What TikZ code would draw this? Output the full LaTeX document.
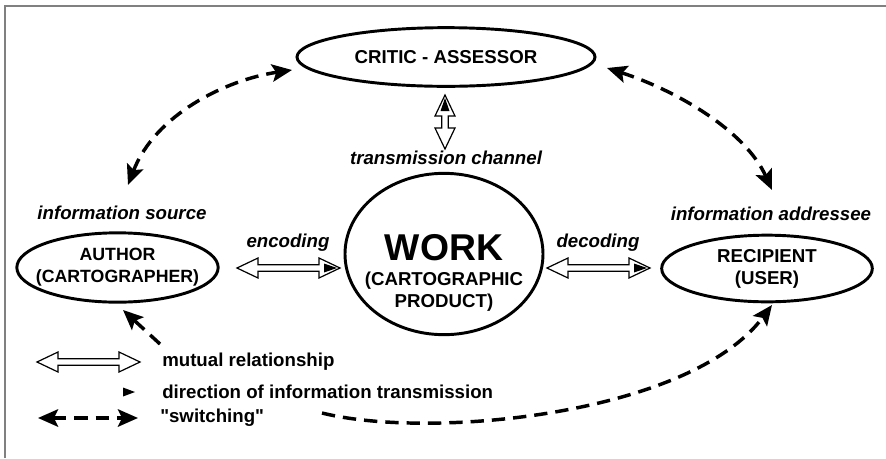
\documentclass[tikz,border=0pt]{standalone}
\usepackage{fontspec}
\setmainfont{Liberation Sans}[Ligatures=TeXOff]
\usetikzlibrary{shapes.geometric,arrows.meta}
\definecolor{framegray}{HTML}{808080}
\tikzset{
  ell/.style={draw, ellipse, line width=2.2pt, inner sep=0pt},
  captxt/.style={font=\fontsize{14}{16.5}\selectfont\bfseries, align=center},
  captxtsmall/.style={font=\fontsize{13.3}{16.5}\selectfont\bfseries, align=center},
  lab/.style={font=\fontsize{14}{16.5}\selectfont\bfseries\itshape},
  leg/.style={font=\fontsize{14}{16.5}\selectfont\bfseries, anchor=west, inner sep=0pt},
  sw/.style={line width=2.6pt, dash pattern=on 10pt off 6pt},
  swtip/.style={-{Stealth[length=15pt,width=13pt,inset=3pt]}},
  swtips/.style={{Stealth[length=15pt,width=13pt,inset=3pt]}-{Stealth[length=15pt,width=13pt,inset=3pt]}},
  pics/mutual/.style={code={
    \draw[line width=0.9pt, fill=white, line join=miter]
      (0,0) -- (21,10) -- (21,3.2) -- (#1-21,3.2) -- (#1-21,10) -- (#1,0)
      -- (#1-21,-10) -- (#1-21,-3.2) -- (21,-3.2) -- (21,-10) -- cycle;
  }},
  pics/mutualdir/.style={code={
    \draw[line width=0.9pt, fill=white, line join=miter]
      (0,0) -- (21,10) -- (21,3.2) -- (#1-21,3.2) -- (#1-21,10) -- (#1,0)
      -- (#1-21,-10) -- (#1-21,-3.2) -- (21,-3.2) -- (21,-10) -- cycle;
    \fill (#1-3,0) -- (#1-16,4.5) -- (#1-16,-4.5) -- cycle;
  }}
}
\begin{document}
\begin{tikzpicture}[x=0.75pt,y=-0.75pt]
\useasboundingbox (0,0) rectangle (886,458);
% frame
\draw[framegray, line width=1.5pt] (5,458) -- (5,6) -- (886,6);

% main ellipses
\node[ell, minimum width=223.5pt, minimum height=44pt,
      label={[captxt]center:CRITIC - ASSESSOR}] (critic) at (446,57) {};
\node[ell, minimum width=151pt, minimum height=52pt,
      label={[captxtsmall]center:AUTHOR\\(CARTOGRAPHER)}] (author) at (117.5,267.5) {};
\node[ell, minimum width=158pt, minimum height=50pt,
      label={[captxt]center:RECIPIENT\\(USER)}] (recipient) at (767,268.5) {};
\node[ell, minimum width=148.5pt, minimum height=121pt] (work) at (444,254) {};
\node[font=\fontsize{28}{30}\selectfont\bfseries] (worktitle) at (444,248) {WORK};
\node[captxt] (worksub) at (444,292) {(CARTOGRAPHIC\\PRODUCT)};

% italic labels
\node[lab] (src) at (122,213) {information source};
\node[lab] (chan) at (446,158) {transmission channel};
\node[lab] (addr) at (771,214) {information addressee};
\node[lab] (enc) at (288,243) {encoding};
\node[lab] (dec) at (598,243) {decoding};

% mutual relationship arrows
\coordinate (enc1) at (237,268);
\coordinate (dec1) at (547,268);
\coordinate (ch1) at (445,149);
\pic at (enc1) {mutualdir=103};
\pic at (dec1) {mutualdir=103};
\pic[rotate=90] at (ch1) {mutualdir=54};

% switching arrows
\coordinate (tl1) at (128,185);
\coordinate (tl2) at (292,70);
\coordinate (tr1) at (607,68);
\coordinate (tr2) at (772,190);
\coordinate (bl1) at (160,344);
\coordinate (bl2) at (123,310);
\coordinate (br1) at (322,413);
\coordinate (br2) at (772,305);
\draw[sw, swtips] (tl1) .. controls (155,115) and (225,80) .. (tl2);
\draw[sw, swtips] (tr1) .. controls (675,90) and (745,130) .. (tr2);
\draw[sw, swtip] (bl1) -- (bl2);
\draw[sw, swtip] (br1) .. controls (430,440) and (690,415) .. (br2);

% legend
\coordinate (lm) at (37,362);
\pic at (lm) {mutual=103};
\node[leg] (legm) at (162,362) {mutual relationship};
\fill (123,387.5) -- (135,392) -- (123,396.5) -- cycle;
\node[leg] (legd) at (162,392) {direction of information transmission};
\coordinate (ls1) at (38,418);
\coordinate (ls2) at (138,418);
\draw[sw, swtips] (ls1) -- (ls2);
\node[leg] (legs) at (160,418) {"switching"};
\end{tikzpicture}
\end{document}
